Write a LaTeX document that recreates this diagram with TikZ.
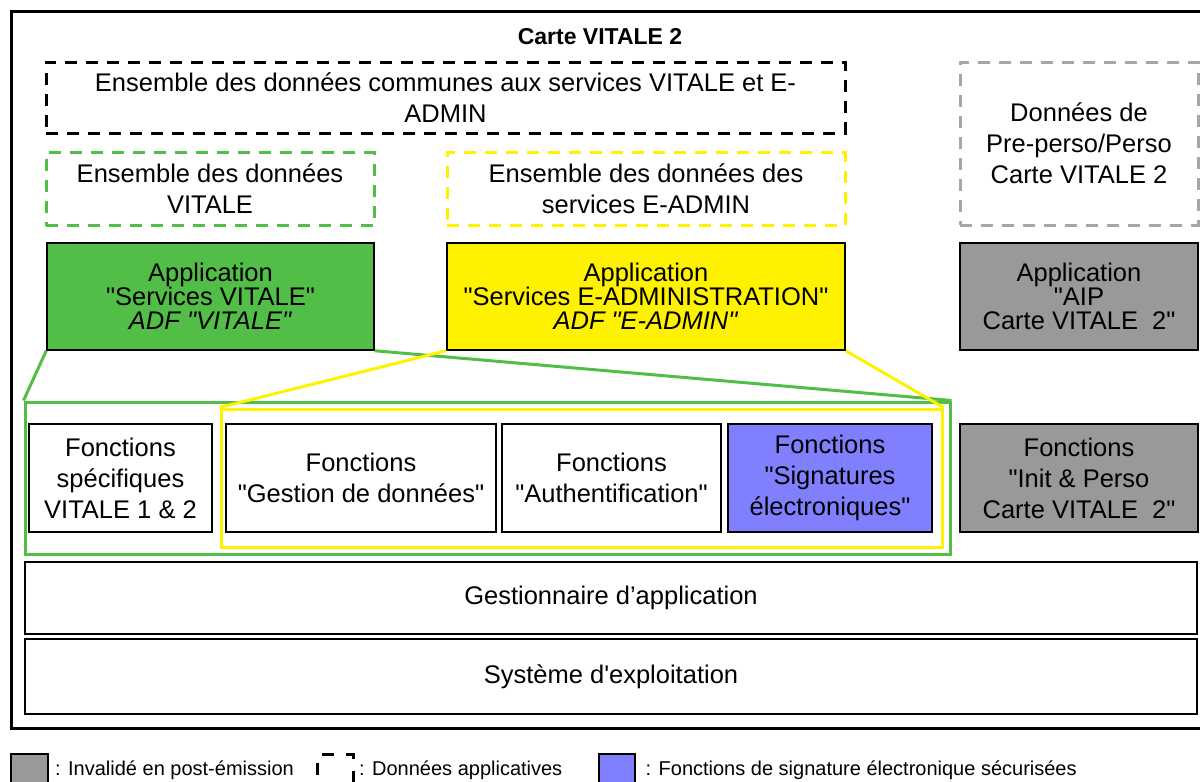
\documentclass[tikz,border=0pt]{standalone}
\usepackage{fontspec}
\setmainfont{Liberation Sans}[Ligatures=TeXOff]
\usetikzlibrary{positioning}
\definecolor{vitgreen}{RGB}{82,190,72}
\definecolor{signblue}{RGB}{128,128,255}
\definecolor{aipgray}{RGB}{153,153,153}
\definecolor{dashgray}{RGB}{166,166,166}
\begin{document}
\begin{tikzpicture}[x=1pt, y=-1pt, line join=miter,
	txt/.style={font=\fontsize{25.5}{31}\selectfont, align=center, inner sep=0pt},
	databox/.style={txt, draw, line width=3pt, dash pattern=on 12pt off 9pt},
	appbox/.style={txt, draw, line width=1.5pt, minimum height=107pt, font=\fontsize{25.5}{24}\selectfont},
	funcbox/.style={txt, draw, line width=1.5pt, minimum height=108pt},
	groupbox/.style={draw, line width=3pt, inner sep=0pt},
	link/.style={line width=3pt},
	legend/.style={font=\fontsize{20}{24}\selectfont, anchor=west, inner sep=0pt}]
	\useasboundingbox (0,0) rectangle (1200,782);
	\draw [line width=3pt] (11,11) rectangle (1215,728);
	\node [font=\fontsize{23}{28}\selectfont\bfseries] (title) at (600,37) {Carte VITALE 2};
	% donnees applicatives
	\node [databox, minimum width=799pt, minimum height=71pt] (dcommon) at (445.5,97.5) {Ensemble des données communes aux services VITALE et E-\\ADMIN};
	\node [databox, vitgreen, text=black, minimum width=328pt, minimum height=73pt] (dvitale) at (210,189) {Ensemble des données\\VITALE};
	\node [databox, yellow, text=black, minimum width=398pt, minimum height=73pt] (dadmin) at (646,189) {Ensemble des données des\\services E-ADMIN};
	\node [databox, dashgray, text=black, minimum width=238pt, minimum height=163pt] (dperso) at (1079,143.5) {Données de\\Pre-perso/Perso\\Carte VITALE 2};
	% applications
	\node [appbox, fill=vitgreen, minimum width=327pt] (appvitale) at (210.5,296.5) {Application\\"Services VITALE"\\\textit{ADF "VITALE"}};
	\node [appbox, fill=yellow, minimum width=398pt] (appadmin) at (646,296.5) {Application\\"Services E-ADMINISTRATION"\\\textit{ADF "E-ADMIN"}};
	\node [appbox, fill=aipgray, minimum width=238pt] (appaip) at (1079,296.5) {Application\\"AIP\\Carte VITALE~~2"};
	% fonctions
	\node [groupbox, vitgreen, minimum width=925pt, minimum height=152pt] (grpvitale) at (487.5,478) {};
	\node [groupbox, yellow, minimum width=721pt, minimum height=138pt] (grpadmin) at (581.5,478) {};
	\node [funcbox, minimum width=183pt] (fspec) at (120.5,478) {Fonctions\\spécifiques\\VITALE 1 \& 2};
	\node [funcbox, minimum width=270pt] (fgest) at (361,478) {Fonctions\\"Gestion de données"};
	\node [funcbox, minimum width=219pt] (fauth) at (611.5,478) {Fonctions\\"Authentification"};
	\node [funcbox, fill=signblue, minimum width=204pt] (fsign) at (830,478) {Fonctions\\"Signatures\\électroniques"};
	\node [funcbox, fill=aipgray, minimum width=238pt] (finit) at (1079,478) {Fonctions\\"Init \& Perso\\Carte VITALE~~2"};
	\draw [link, vitgreen] (appvitale.south west) -- (grpvitale.north west);
	\draw [link, vitgreen] (appvitale.south east) -- (grpvitale.north east);
	\draw [link, yellow] (appadmin.south west) -- (grpadmin.north west);
	\draw [link, yellow] (appadmin.south east) -- (grpadmin.north east);
	% couches basses
	\node [funcbox, minimum width=1172pt, minimum height=72pt] (gestion) at (611,598) {Gestionnaire d’application};
	\node [funcbox, minimum width=1172pt, minimum height=75pt] (systeme) at (611,676.5) {Système d'exploitation};
	% legende
	\node [draw, line width=1.5pt, fill=aipgray, minimum width=37pt, minimum height=40pt, anchor=north west] (leginv) at (10,753) {};
	\node [legend] (leginvtxt) at (55,770) {: Invalidé en post-émission};
	\node [draw, line width=3pt, dash pattern=on 12pt off 12pt, minimum width=36pt, minimum height=40pt, anchor=north west] (legdata) at (316,753) {};
	\node [legend, right=4pt of legdata.east |- leginvtxt.west] (legdatatxt) {: Données applicatives};
	\node [draw, line width=1.5pt, fill=signblue, minimum width=36pt, minimum height=40pt, anchor=north west] (legsign) at (598,753) {};
	\node [legend, right=10pt of legsign.east |- leginvtxt.west] (legsigntxt) {: Fonctions de signature électronique sécurisées};
\end{tikzpicture}
\end{document}
